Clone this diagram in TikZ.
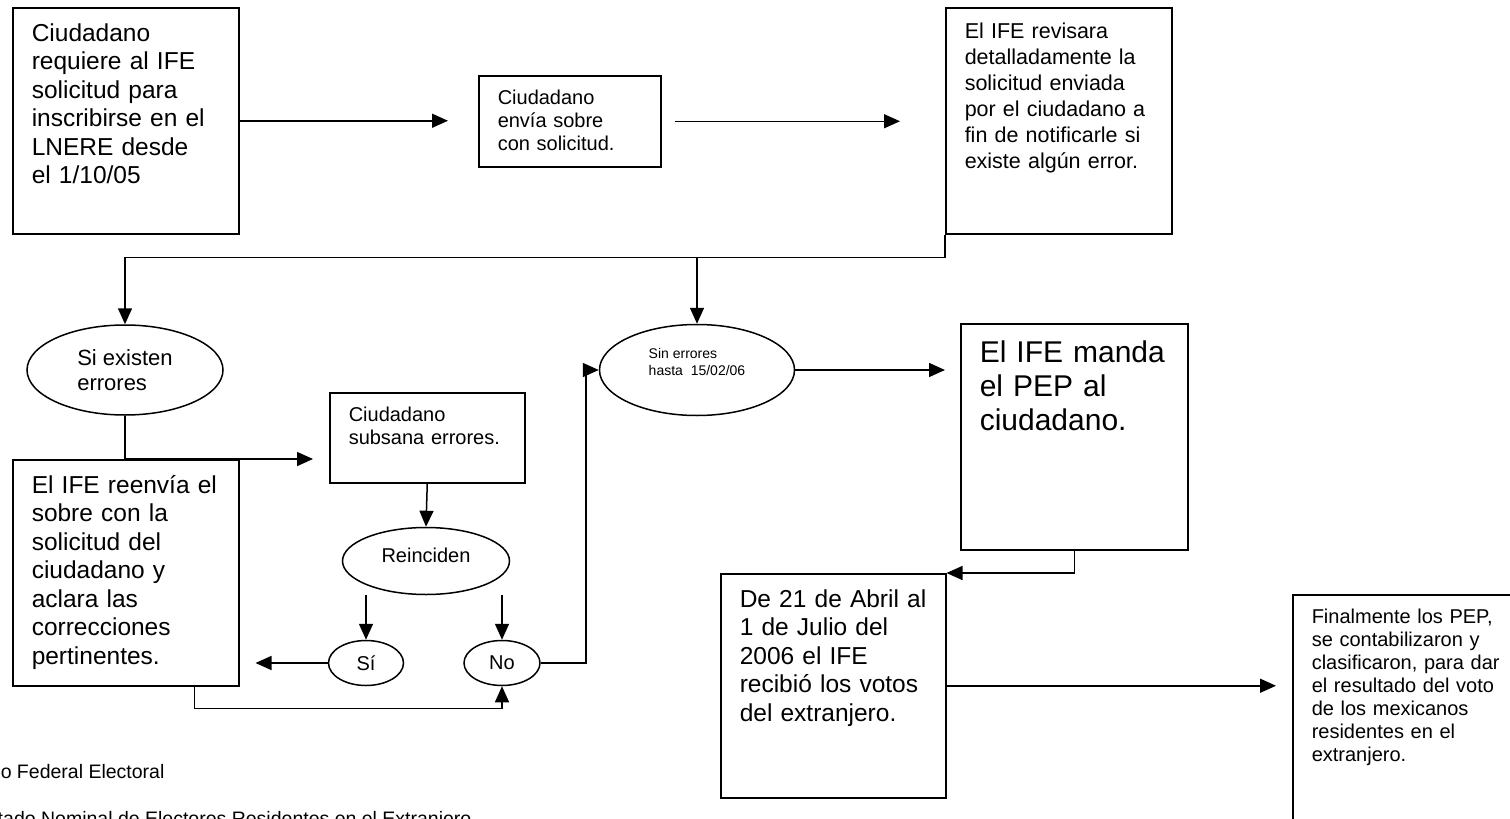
\documentclass[tikz,border=0pt]{standalone}
\usepackage{fontspec}
\setmainfont{Liberation Sans}
\usetikzlibrary{arrows.meta,shapes.geometric,calc}

\tikzset{
  caja/.style n args={3}{draw, anchor=north west, align=left, inner xsep=9.5pt, inner ysep=4.5pt,
    text width=#1, text depth=#2, text height=#3},
  ovalo/.style 2 args={draw, ellipse, inner sep=0pt, minimum width=#1, minimum height=#2, align=left},
  flecha/.style={-{Triangle[length=8pt,width=7pt]}},
  letragrande/.style={font=\fontsize{12.25}{14.25}\selectfont},
  letramedia/.style={font=\fontsize{10.75}{13}\selectfont},
  letrachica/.style={font=\fontsize{10}{11.5}\selectfont},
  letraenorme/.style={font=\fontsize{15}{17}\selectfont},
  nota/.style={font=\fontsize{9.75}{11}\selectfont, inner sep=0pt, anchor=base west}
}

\begin{document}
\begin{tikzpicture}[x=0.5pt,y=-0.5pt,line width=0.75pt]
    \useasboundingbox (0,0) rectangle (1510,819);
    \clip (0,0) rectangle (1510,819);
    % solicitud
    \node[caja={94pt}{91.75pt}{12.25pt}, letragrande] (pide) at (12,7)
        {Ciudadano\\ requiere al IFE\\ solicitud para\\ inscribirse en el\\ LNERE desde\\ el 1/10/05};
    \node[caja={72pt}{26.5pt}{10pt}, letrachica] (envia) at (478,75)
        {Ciudadano\\ envía sobre\\ con solicitud.};
    \node[caja={94pt}{93.25pt}{10.75pt}, letramedia] (revisa) at (945,7)
        {El IFE revisara\\ detalladamente la\\ solicitud enviada\\ por el ciudadano a\\ fin de notificarle si\\ existe algún error.};
    \draw[flecha, shorten >=15pt] (pide.east) -- (pide.east -| envia.west);
    \draw[flecha, shorten <=6.5pt, shorten >=22.5pt] (envia.east) -- (envia.east -| revisa.west);

    % con errores
    \node[ovalo={98pt}{45pt}, font=\fontsize{11}{12.5}\selectfont] (sie) at (125,370) {Si existen\\ errores};
    \node[caja={94pt}{91.75pt}{12.25pt}, letragrande] (reenvia) at (12,459)
        {El IFE reenvía el\\ sobre con la\\ solicitud del\\ ciudadano y\\ aclara las\\ correcciones\\ pertinentes.};
    \node[caja={78.5pt}{26pt}{10pt}, letrachica] (subsana) at (329,392)
        {Ciudadano\\ subsana errores.};
    \node[ovalo={83.5pt}{33.5pt}, letrachica] (reinc) at (426,561) {Reinciden\\[-6pt]\mbox{}};
    \node[ovalo={37.5pt}{22.5pt}, letrachica] (si) at (366,663) {Sí};
    \node[ovalo={38pt}{22.5pt}, letrachica] (no) at (502,663) {No};

    % sin errores
    \node[ovalo={97.5pt}{45.5pt}, font=\fontsize{7}{8.5}\selectfont] (sin) at (697,370)
        {Sin errores\\ hasta\ \ 15/02/06\\ \mbox{}};
    \node[caja={94.5pt}{89pt}{15pt}, letraenorme] (manda) at (960,323)
        {El IFE manda\\ el PEP al\\ ciudadano.};
    \node[caja={93.5pt}{90.75pt}{12.25pt}, letragrande] (recibe) at (720,573)
        {De 21 de Abril al\\ 1 de Julio del\\ 2006 el IFE\\ recibió los votos\\ del extranjero.};
    \node[caja={100pt}{94pt}{10pt}, letrachica] (final) at (1292,594)
        {Finalmente los PEP,\\ se contabilizaron y\\ clasificaron, para dar\\ el resultado del voto\\ de los mexicanos\\ residentes en el\\ extranjero.};

    % ramas
    \coordinate (rama) at ($(revisa.south west)+(0,23)$);
    \draw (revisa.south west) -- (rama);
    \draw[flecha] (rama) -| (sie.north);
    \draw[flecha] (sin.north |- rama) -- (sin.north);
    \draw[flecha, shorten >=8pt] (sie.south) |- (subsana.west |- reenvia.north);
    \draw[flecha] (subsana.south) -- (reinc.north);
    \draw[flecha] (si.north |- reinc.south) -- (si.north);
    \draw[flecha] (no.north |- reinc.south) -- (no.north);
    \draw[flecha, shorten >=8pt] (si.west) -- (si.west -| reenvia.east);
    \draw[flecha] ($(reenvia.south east)+(-45,0)$) -- ++(0,22) -| (no.south);
    \draw[flecha] (no.east) -- ++(45,0) |- (sin.west);
    \draw[flecha, shorten >=7.5pt] (sin.east) -- (sin.east -| manda.west);
    \draw[flecha] (manda.south) |- (recibe.north east);
    \draw[flecha, shorten >=8pt] (recibe.east) -- (recibe.east -| final.west);

    % notas
    \node[nota] (ife) at (0,778) {o Federal Electoral};
    \node[nota] (lista) at (-3,825) {tado Nominal de Electores Residentes en el Extranjero};
\end{tikzpicture}
\end{document}
